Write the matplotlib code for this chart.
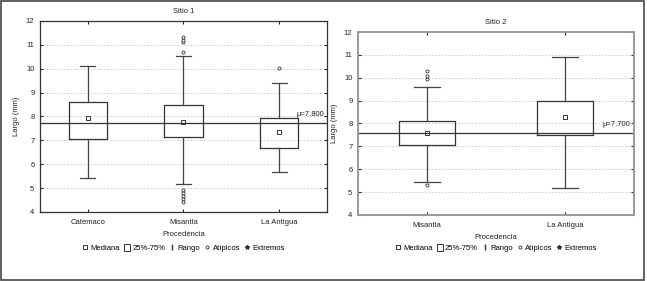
import matplotlib.pyplot as plt
from matplotlib.lines import Line2D
from matplotlib.patches import Rectangle

# Sitio 1
cats1 = ['Catemaco', 'Misantla', 'La Antigua']
q1_1 = [7.04, 7.14, 6.68]
med1 = [7.94, 7.77, 7.35]
q3_1 = [8.61, 8.48, 7.94]
lo1 = [5.42, 5.17, 5.67]
hi1 = [10.12, 10.53, 9.40]
out1 = [[], [10.70, 11.12, 11.22, 11.33, 4.92, 4.80, 4.68, 4.56, 4.42], [10.03]]
mu1 = 7.74
mu1_text = 'μ=7.800'

# Sitio 2
cats2 = ['Misantla', 'La Antigua']
q1_2 = [7.04, 7.48]
med2 = [7.57, 8.29]
q3_2 = [8.10, 8.99]
lo2 = [5.45, 5.20]
hi2 = [9.59, 10.90]
out2 = [[9.94, 10.06, 10.28, 5.31], []]
mu2 = 7.59
mu2_text = 'μ=7.700'

plt.rcParams['font.family'] = ['Liberation Sans', 'DejaVu Sans']
fs = 5.5
dark = '#333333'

fig = plt.figure(figsize=(6.47, 2.81), dpi=100)

# outer frame
fig.patches.append(Rectangle((0.002, 0.005), 0.994, 0.993, transform=fig.transFigure,
                             fill=False, edgecolor='#555555', linewidth=1.3))


def draw(ax, cats, q1, med, q3, lo, hi, outs, mu, mu_text, title, boxw, capw,
         spine_col, spine_w, leg_y):
    stats = []
    for i in range(len(cats)):
        stats.append(dict(q1=q1[i], med=med[i], q3=q3[i], whislo=lo[i], whishi=hi[i],
                          fliers=outs[i], label=cats[i]))
    pos = list(range(1, len(cats) + 1))
    ax.bxp(stats, positions=pos, widths=boxw, capwidths=capw,
           boxprops=dict(color=dark, linewidth=0.9),
           whiskerprops=dict(color='#444444', linewidth=0.9),
           capprops=dict(color='#444444', linewidth=0.9),
           medianprops=dict(linewidth=0),
           flierprops=dict(marker='o', markersize=2.2, markerfacecolor='white',
                           markeredgecolor=dark, markeredgewidth=0.6))
    ax.plot(pos, med, linestyle='none', marker='s', markersize=2.5,
            markerfacecolor='white', markeredgecolor=dark, markeredgewidth=0.7)
    ax.axhline(mu, color=dark, linewidth=0.9)
    ax.text(len(cats) + 0.47, mu + 0.35, mu_text, ha='right', va='center', fontsize=fs, color='#222222')
    ax.set_xlim(0.5, len(cats) + 0.5)
    ax.set_ylim(4, 12)
    ax.set_yticks(range(4, 13))
    ax.set_xticks(pos)
    ax.set_xticklabels(cats)
    ax.grid(axis='y', linestyle=(0, (2, 2)), color='#c8c8c8', linewidth=0.6)
    ax.set_axisbelow(True)
    ax.tick_params(direction='in', length=2, width=0.8, labelsize=fs, colors='#222222',
                   top=True, right=True, pad=4)
    ax.tick_params(axis='x', pad=5)
    for s in ax.spines.values():
        s.set_color(spine_col)
        s.set_linewidth(spine_w)
    ax.set_title(title, fontsize=fs, color='#222222', pad=6)
    ax.set_ylabel('Largo (mm)', fontsize=fs, color='#222222', labelpad=4)
    ax.set_xlabel('Procedencia', fontsize=fs, color='#222222', labelpad=4)
    handles = [
        Line2D([], [], linestyle='none', marker='s', markersize=2.5, markerfacecolor='white',
               markeredgecolor=dark, markeredgewidth=0.7),
        Rectangle((0, 0), 1, 1, facecolor='white', edgecolor=dark, linewidth=0.7),
        Line2D([], [], linestyle='none', marker='$\\mathsf{I}$', markersize=5, color=dark),
        Line2D([], [], linestyle='none', marker='o', markersize=2.2, markerfacecolor='white',
               markeredgecolor=dark, markeredgewidth=0.6),
        Line2D([], [], linestyle='none', marker='*', markersize=3, color=dark),
    ]
    labels = ['Mediana', '25%-75%', 'Rango', 'Atípicos', 'Extremos']
    ax.legend(handles, labels, loc='center', bbox_to_anchor=(0.5, leg_y), ncol=5,
              frameon=False, fontsize=fs, handlelength=0.8, handletextpad=0.3,
              columnspacing=0.5, handleheight=1.0, borderpad=0)


ax1 = fig.add_axes([0.0618, 0.2456, 0.4436, 0.6797])
draw(ax1, cats1, q1_1, med1, q3_1, lo1, hi1, out1, mu1, mu1_text, 'Sitio 1',
     0.4, 0.16, '#333333', 0.9, -0.19)

ax2 = fig.add_axes([0.5533, 0.2349, 0.4266, 0.6512])
draw(ax2, cats2, q1_2, med2, q3_2, lo2, hi2, out2, mu2, mu2_text, 'Sitio 2',
     0.41, 0.19, '#999999', 1.4, -0.18)

fig.savefig('out.png', dpi=100)
